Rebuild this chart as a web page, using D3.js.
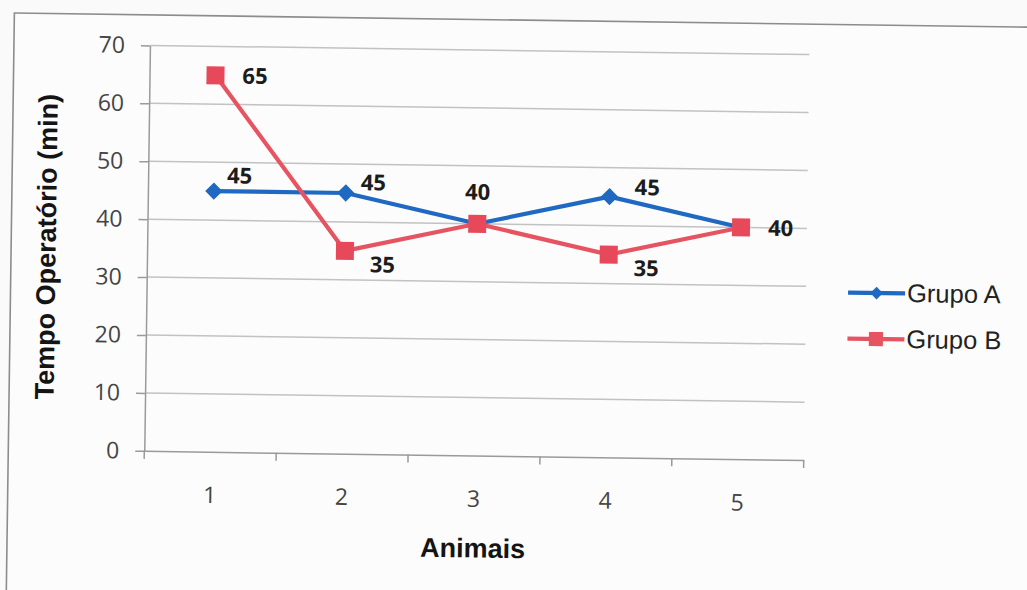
<!DOCTYPE html>
<html>
<head>
<meta charset="utf-8">
<script src="https://cdn.jsdelivr.net/npm/d3@7"></script>
<style>
  html, body { margin: 0; padding: 0; background: #fafafa; }
  svg { display: block; }
</style>
</head>
<body>
<svg id="chart" width="1027" height="590"></svg>
<script>
// Operating time per animal for two groups
const categories = ["1", "2", "3", "4", "5"];
const grupoA = [45, 45, 40, 45, 40];
const grupoB = [65, 35, 40, 35, 40];
const yTicks = [0, 10, 20, 30, 40, 50, 60, 70];
const seriesNames = ["Grupo A", "Grupo B"];
// where each point's value label sits ("none" = not shown)
const labelPosA = ["ne", "ne2", "n", "ene", "none"];
const labelPosB = ["e", "se", "none", "se", "e"];

const W = 1027, H = 590;
const plot = { left: 146.5, right: 806, top: 50.5, bottom: 456 };
const colors = { a: "#1f69c2", b: "#e65462", bFill: "#e8495a" };

const svg = d3.select("#chart");
svg.append("rect").attr("width", W).attr("height", H).attr("fill", "#fafafa");

// whole sheet sits slightly tilted
const root = svg.append("g").attr("transform", "rotate(0.8, 513, 295)");

// chart frame
root.append("rect")
  .attr("x", 10.5).attr("y", 20).attr("width", 1060).attr("height", 620)
  .attr("fill", "#fcfcfc").attr("stroke", "#8c8c8c").attr("stroke-width", 1.6);

const x = d3.scaleBand().domain(categories).range([plot.left, plot.right]);
const y = d3.scaleLinear().domain([0, 70]).range([plot.bottom, plot.top]);

// horizontal gridlines
root.append("g").selectAll("line")
  .data(yTicks.filter(t => t > 0))
  .join("line")
  .attr("x1", plot.left).attr("x2", plot.right)
  .attr("y1", d => y(d)).attr("y2", d => y(d))
  .attr("stroke", "#c2c2c2").attr("stroke-width", 1.5);

// y axis
const yAxis = root.append("g")
  .attr("transform", `translate(${plot.left},0)`)
  .call(d3.axisLeft(y).tickValues(yTicks).tickSize(9).tickSizeOuter(0).tickPadding(16));
yAxis.select(".domain").attr("stroke", "#9a9a9a").attr("stroke-width", 1.5);
yAxis.selectAll(".tick line").attr("stroke", "#9a9a9a").attr("stroke-width", 1.5);
yAxis.selectAll(".tick text")
  .attr("font-family", "'Open Sans', sans-serif").attr("font-size", 23)
  .attr("fill", "#444");

// x axis
const xAxis = root.append("g")
  .attr("transform", `translate(0,${plot.bottom})`)
  .call(d3.axisBottom(x).tickSize(0).tickSizeOuter(0).tickPadding(35));
xAxis.select(".domain").attr("stroke", "#9a9a9a").attr("stroke-width", 1.5);
xAxis.selectAll(".tick text")
  .attr("font-family", "'Open Sans', sans-serif").attr("font-size", 23)
  .attr("fill", "#444");

// tick marks between categories
root.append("g").selectAll("line")
  .data(d3.range(categories.length + 1))
  .join("line")
  .attr("x1", i => plot.left + i * x.step()).attr("x2", i => plot.left + i * x.step())
  .attr("y1", plot.bottom).attr("y2", plot.bottom + 8)
  .attr("stroke", "#9a9a9a").attr("stroke-width", 1.5);

// axis titles
root.append("text")
  .attr("x", (plot.left + plot.right) / 2).attr("y", 558)
  .attr("text-anchor", "middle")
  .attr("font-family", "'Liberation Sans', Arial, sans-serif")
  .attr("font-weight", "bold").attr("font-size", 27).attr("fill", "#141414")
  .text("Animais");

root.append("text")
  .attr("transform", `translate(55,${(plot.top + plot.bottom) / 2}) rotate(-90)`)
  .attr("text-anchor", "middle")
  .attr("font-family", "'Liberation Sans', Arial, sans-serif")
  .attr("font-weight", "bold").attr("font-size", 27).attr("fill", "#141414")
  .text("Tempo Operatório (min)");

const cx = (d, i) => x(categories[i]) + x.bandwidth() / 2;
const line = d3.line().x((d, i) => cx(d, i)).y(d => y(d));

const diamond = d3.symbol().type(d3.symbolSquare).size(150);
const square = d3.symbol().type(d3.symbolSquare).size(324);

// series A
root.append("path").datum(grupoA)
  .attr("d", line).attr("fill", "none")
  .attr("stroke", colors.a).attr("stroke-width", 4.2).attr("stroke-linejoin", "round");
root.append("g").selectAll("path")
  .data(grupoA).join("path")
  .attr("d", diamond)
  .attr("transform", (d, i) => `translate(${cx(d, i)},${y(d)}) rotate(45)`)
  .attr("fill", colors.a);

// series B
root.append("path").datum(grupoB)
  .attr("d", line).attr("fill", "none")
  .attr("stroke", colors.b).attr("stroke-width", 4.2).attr("stroke-linejoin", "round");
root.append("g").selectAll("path")
  .data(grupoB).join("path")
  .attr("d", square)
  .attr("transform", (d, i) => `translate(${cx(d, i)},${y(d)})`)
  .attr("fill", colors.bFill);

// value labels
const offsets = {
  ne:  { dx: 13, dy: -8, anchor: "start" },
  ne2: { dx: 15, dy: -3, anchor: "start" },
  ene: { dx: 25, dy: -2, anchor: "start" },
  n:   { dx: 0, dy: -24, anchor: "middle" },
  e:   { dx: 27, dy: 8, anchor: "start" },
  se:  { dx: 25, dy: 21, anchor: "start" }
};
function drawLabels(values, positions) {
  const items = values.map((v, i) => ({ v, i, p: positions[i] })).filter(o => o.p !== "none");
  root.append("g").selectAll("text")
    .data(items).join("text")
    .attr("x", o => cx(o.v, o.i) + offsets[o.p].dx)
    .attr("y", o => y(o.v) + offsets[o.p].dy)
    .attr("text-anchor", o => offsets[o.p].anchor)
    .attr("font-family", "'Open Sans', sans-serif")
    .attr("font-weight", "bold").attr("font-size", 22).attr("fill", "#1c1c1c")
    .text(o => o.v);
}
drawLabels(grupoA, labelPosA);
drawLabels(grupoB, labelPosB);

// legend
const legend = root.append("g").attr("transform", "translate(848,288)");
const legendItems = [
  { name: seriesNames[0], color: colors.a, mark: d3.symbol().type(d3.symbolSquare).size(80), rot: 45 },
  { name: seriesNames[1], color: colors.b, mark: d3.symbol().type(d3.symbolSquare).size(200), rot: 0 }
];
const li = legend.selectAll("g").data(legendItems).join("g")
  .attr("transform", (d, i) => `translate(0,${i * 46})`);
li.append("line").attr("x1", 0).attr("x2", 57).attr("y1", 0).attr("y2", 0)
  .attr("stroke", d => d.color).attr("stroke-width", 4.2);
li.append("path").attr("d", d => d.mark())
  .attr("transform", d => `translate(28.5,0) rotate(${d.rot})`)
  .attr("fill", d => d.color);
li.append("text").attr("x", 59).attr("y", 8.5)
  .attr("font-family", "'Liberation Sans', Arial, sans-serif")
  .attr("font-size", 25.5).attr("fill", "#222")
  .text(d => d.name);
</script>
</body>
</html>
